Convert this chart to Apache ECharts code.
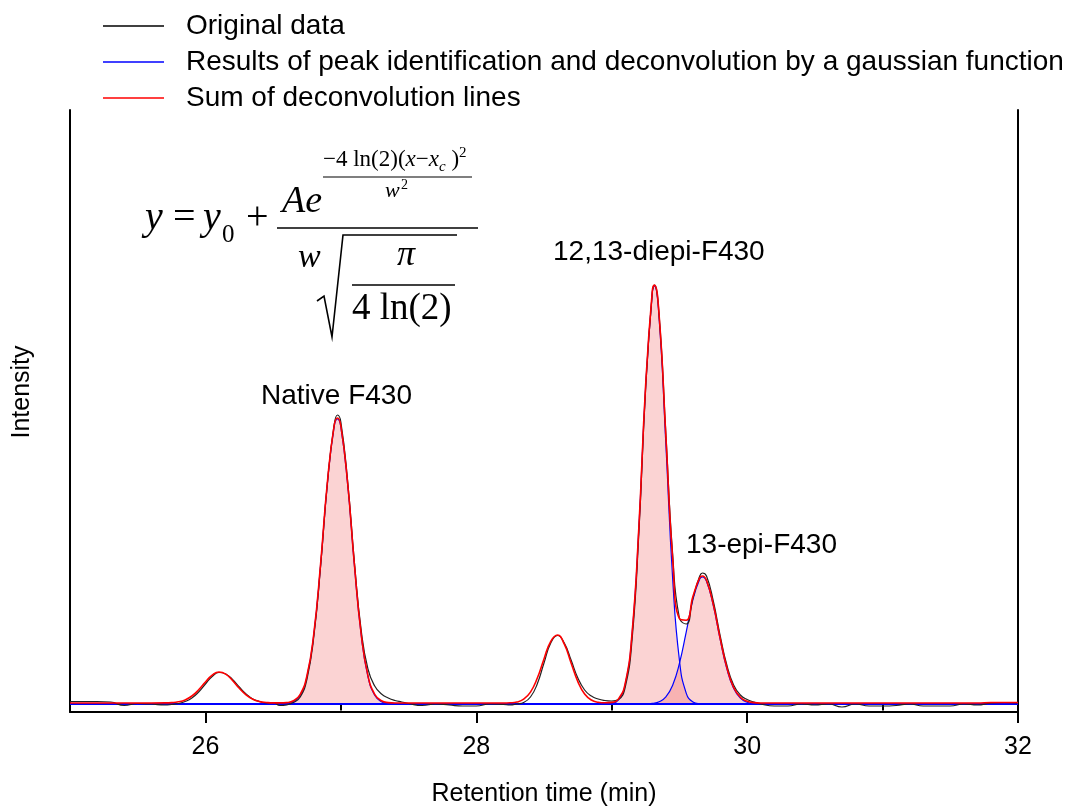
<!DOCTYPE html>
<html>
<head>
<meta charset="utf-8">
<title>Peak deconvolution</title>
<script src="https://cdn.jsdelivr.net/npm/echarts@6/dist/echarts.min.js"></script>
<style>
  html, body { margin: 0; padding: 0; background: #fff; }
  #chart { width: 1081px; height: 807px; }
</style>
</head>
<body>
<div id="chart"></div>
<script>
// retention time grid shared by the raw trace and the summed fit (min)
const timeGrid = [
  25.0, 25.1, 25.2, 25.3, 25.4, 25.5, 25.6, 25.7, 25.75, 25.8, 25.85, 25.9, 25.95,
  26.0, 26.05, 26.1, 26.15, 26.2, 26.25, 26.3, 26.35, 26.4, 26.45, 26.5, 26.55,
  26.6, 26.65, 26.7, 26.75, 26.8, 26.85, 26.9, 26.95, 26.975, 27.0, 27.05, 27.1, 27.15,
  27.2, 27.25, 27.3, 27.35, 27.4, 27.45, 27.5, 27.6, 27.7, 27.8, 27.9, 28.0, 28.1, 28.2,
  28.25, 28.3, 28.35, 28.4, 28.45, 28.5, 28.55, 28.6, 28.65, 28.7, 28.75, 28.8, 28.85,
  28.9, 28.95, 29.0, 29.05, 29.1, 29.15, 29.2, 29.25, 29.3, 29.315, 29.35, 29.4, 29.45,
  29.5, 29.55, 29.6, 29.65, 29.67, 29.7, 29.75, 29.8, 29.85, 29.9, 29.95, 30.0, 30.05,
  30.1, 30.2, 30.3, 30.4, 30.5, 30.6, 30.7, 30.8, 30.9, 31.0, 31.1, 31.2, 31.3, 31.4,
  31.5, 31.6, 31.7, 31.8, 31.9, 32.0
];
// original data (arbitrary intensity)
const originalIntensity = [
  2.5, 2.5, 2.5, 2, -1.5, 0.5, 0, -1, -0.5, 0.5, 2.5, 6, 12,
  20, 27.5, 31.5, 30, 24.5, 17, 10, 5, 2.5, 1, 1.5, -1.5,
  -1, 1.5, 7, 25, 67, 137, 220, 279, 289, 282, 223, 142, 74,
  35, 18, 10, 6, 3.5, 2, 0.5, -1.5, 0, -1, -2, -2, 0, -0.5,
  -1, 0, 1.5, 7, 20, 41, 61, 68.5, 61, 44, 26, 14, 8,
  5, 3.5, 3, 4.5, 17, 64, 170, 314, 412, 419, 389, 270, 150,
  86, 80, 106, 128, 131, 128, 103, 69, 39, 19, 9, 4.5, 2,
  0, -2, -2, 0, -1, 0, -3, 0, -2, -2, -1.5, 0, -2, -2,
  -2, 0, -1, 1, 1.5, 1
];
// sum of deconvolution lines
const sumIntensity = [
  1, 1, 1, 1, 1, 1, 1, 1.1, 1.4, 2.2, 4.1, 8, 14.2,
  22, 28.8, 32, 29.9, 23.5, 15.7, 9.1, 4.7, 2.4, 1.5, 1.1, 1.1,
  1.4, 3.2, 9.7, 28.5, 70, 139.5, 221, 278, 286, 278, 221, 139.5, 70,
  28.5, 9.7, 3.2, 1.4, 1, 1, 1, 1, 1, 1, 1, 1, 1, 1,
  1.2, 2, 4.8, 11.9, 25.7, 45.1, 62.7, 69, 59.8, 41, 22.4, 10, 4,
  1.8, 1.2, 1.6, 5.1, 20.8, 70.4, 175.6, 317.6, 413.4, 419, 388.8, 267.6, 145.4,
  85.3, 83.8, 107.7, 126.3, 128, 123.6, 99.6, 66.2, 36.4, 16.7, 6.8, 2.7, 1.4,
  1, 1, 1, 1, 1, 1, 1, 1, 1, 1, 1, 1, 1, 1,
  1, 1, 1, 1.5, 1.5, 1.5
];

// gaussian components (blue, filled)
const nativeTime = [26.55, 26.6, 26.65, 26.7, 26.75, 26.8, 26.85, 26.9, 26.95, 26.975, 27.0, 27.05, 27.1, 27.15, 27.2, 27.25, 27.3, 27.35, 27.4];
const nativeFit = [0, 0.4, 2.2, 8.7, 27.5, 69.2, 138.5, 219.8, 276.9, 285, 276.9, 219.8, 138.5, 69.2, 27.5, 8.7, 2.2, 0.4, 0];
const diepiTime = [28.95, 29.0, 29.05, 29.1, 29.15, 29.2, 29.25, 29.3, 29.315, 29.35, 29.4, 29.45, 29.5, 29.55, 29.6, 29.65, 29.7];
const diepiFit = [0, 0.6, 4.1, 19.8, 69.4, 174.6, 316.4, 411.8, 418, 385.6, 259.5, 125.6, 43.7, 10.9, 2.0, 0.3, 0];
const epiTime = [29.25, 29.3, 29.35, 29.4, 29.45, 29.5, 29.55, 29.6, 29.65, 29.67, 29.7, 29.75, 29.8, 29.85, 29.9, 29.95, 30.0, 30.05, 30.1];
const epiFit = [0, 0.6, 2.2, 7.1, 18.8, 40.6, 71.9, 104.7, 125, 127, 122.6, 98.6, 65.2, 35.4, 15.7, 5.8, 1.7, 0.4, 0];
const baselineTime = [25, 32];
const baselineFit = [0, 0];

// axis ticks
const tickLabels = [26, 28, 30, 32];
const minorTicks = [25, 27, 29, 31];

const origName = 'Original data';
const fitName = 'Results of peak identification and deconvolution by a gaussian function';
const sumName = 'Sum of deconvolution lines';

const sans = "'Liberation Sans', Arial, sans-serif";
const serif = "'Liberation Serif', 'Times New Roman', serif";

function pairs(xs, ys) {
  return xs.map((x, i) => [x, ys[i]]);
}

// ---- formula drawn as text pieces ----
const measureCtx = document.createElement('canvas').getContext('2d');
function fontOf(size, italic) {
  return (italic ? 'italic ' : '') + size + 'px ' + serif;
}
function mtext(str, x, base, size, italic) {
  return {
    type: 'text',
    x: x,
    y: base - 0.34 * size,
    style: {
      text: str, font: fontOf(size, italic), fill: '#000',
      verticalAlign: 'middle', textVerticalAlign: 'middle'
    }
  };
}
function chain(parts, x, base) {
  const els = [];
  parts.forEach(p => {
    els.push(mtext(p.t, x, base + (p.dy || 0), p.s, p.i));
    measureCtx.font = fontOf(p.s, p.i);
    x += measureCtx.measureText(p.t).width;
  });
  return els;
}
function hline(x1, x2, y, w) {
  return { type: 'line', shape: { x1: x1, y1: y, x2: x2, y2: y }, style: { stroke: '#000', lineWidth: w || 1.4 } };
}

const formula = [].concat(
  [
    mtext('y', 145, 232, 40, true),
    mtext('=', 173, 232, 40, false),
    mtext('y', 203, 232, 40, true),
    mtext('0', 222, 244, 25, false),
    mtext('+', 246, 232, 40, false),
    mtext('Ae', 282, 215, 38, true)
  ],
  chain([
    { t: '\u22124', s: 23 }, { t: ' ln(2)(', s: 23 }, { t: 'x', s: 23, i: true },
    { t: '\u2212', s: 23 }, { t: 'x', s: 23, i: true }, { t: 'c', s: 15, i: true, dy: 4 },
    { t: ' )', s: 23 }, { t: '2', s: 15, dy: -10 }
  ], 323, 168),
  [
    hline(323, 472, 177, 1.2),
    mtext('w', 385, 199, 22, true),
    mtext('2', 401, 190, 14, false),
    hline(277, 478, 228, 1.6),
    mtext('w', 298, 270, 34, true),
    {
      type: 'polyline',
      shape: { points: [[317, 301], [324, 296], [332, 337], [343, 235], [457, 235]] },
      style: { stroke: '#000', lineWidth: 1.6, fill: null }
    },
    mtext('\u03c0', 397, 268, 36, true),
    hline(352, 455, 285, 1.3),
    mtext('4 ln(2)', 352, 322, 37, false)
  ]
);

const annotations = [
  { text: 'Native F430', x: 261, y: 396 },
  { text: '12,13-diepi-F430', x: 553, y: 252 },
  { text: '13-epi-F430', x: 686, y: 545 }
].map(a => ({
  type: 'text', x: a.x, y: a.y,
  style: { text: a.text, font: '28px ' + sans, fill: '#000', verticalAlign: 'middle', textVerticalAlign: 'middle' }
}));

const yTitle = {
  type: 'text', x: 22, y: 392, rotation: Math.PI / 2,
  style: {
    text: 'Intensity', font: '25px ' + sans, fill: '#000',
    align: 'center', textAlign: 'center', verticalAlign: 'middle', textVerticalAlign: 'middle'
  }
};

const chart = echarts.init(document.getElementById('chart'));

function component(xs, ys) {
  return {
    name: fitName,
    type: 'line',
    data: pairs(xs, ys),
    smooth: 0.5,
    symbol: 'none',
    lineStyle: { color: '#0000ff', width: 1.2 },
    itemStyle: { color: '#0000ff' },
    areaStyle: { color: 'rgba(240,90,90,0.38)' }
  };
}

const option = {
  animation: false,
  backgroundColor: '#fff',
  grid: { left: 70, right: 63, top: 110, bottom: 95, outerBoundsMode: 'none' },
  legend: {
    orient: 'vertical',
    left: 98,
    top: 5,
    icon: 'rect',
    itemWidth: 61,
    itemHeight: 1.5,
    itemGap: 4,
    selectedMode: false,
    textStyle: { fontSize: 28, fontFamily: sans, color: '#000', lineHeight: 32, padding: [0, 0, 0, 17] },
    data: [origName, fitName, sumName]
  },
  xAxis: [
    {
      type: 'value', min: 25, max: 32, interval: 1,
      axisLine: { onZero: false, lineStyle: { color: '#000', width: 2 } },
      axisTick: { customValues: tickLabels, length: 11, lineStyle: { color: '#000', width: 2 } },
      axisLabel: { customValues: tickLabels, color: '#000', fontSize: 25, fontFamily: sans, margin: 23 },
      splitLine: { show: false },
      name: 'Retention time (min)', nameLocation: 'middle', nameGap: 70,
      nameTextStyle: { color: '#000', fontSize: 25, fontFamily: sans }
    },
    {
      type: 'value', min: 25, max: 32, interval: 1, position: 'bottom',
      axisLine: { show: false },
      axisTick: { customValues: minorTicks, length: 6.5, lineStyle: { color: '#000', width: 2 } },
      axisLabel: { show: false },
      splitLine: { show: false }
    }
  ],
  yAxis: [
    {
      type: 'value', min: -8, max: 594, position: 'left',
      axisLine: { show: true, onZero: false, lineStyle: { color: '#000', width: 2 } },
      axisTick: { show: false }, axisLabel: { show: false }, splitLine: { show: false }
    },
    {
      type: 'value', min: -8, max: 594, position: 'right',
      axisLine: { show: true, onZero: false, lineStyle: { color: '#000', width: 2 } },
      axisTick: { show: false }, axisLabel: { show: false }, splitLine: { show: false }
    }
  ],
  series: [
    component(nativeTime, nativeFit),
    component(diepiTime, diepiFit),
    component(epiTime, epiFit),
    {
      name: fitName, type: 'line', data: pairs(baselineTime, baselineFit), symbol: 'none',
      lineStyle: { color: '#0000ff', width: 2 }, itemStyle: { color: '#0000ff' }
    },
    {
      name: origName, type: 'line', data: pairs(timeGrid, originalIntensity),
      smooth: 0.5, symbol: 'none',
      lineStyle: { color: '#222', width: 1.2 }, itemStyle: { color: '#000' }
    },
    {
      name: sumName, type: 'line', data: pairs(timeGrid, sumIntensity),
      smooth: 0.5, symbol: 'none',
      lineStyle: { color: '#ff0000', width: 1.6 }, itemStyle: { color: '#ff0000' }
    }
  ],
  graphic: formula.concat(annotations, [yTitle])
};

chart.setOption(option);
window.addEventListener('resize', () => {
  chart.resize();
});
</script>
</body>
</html>
